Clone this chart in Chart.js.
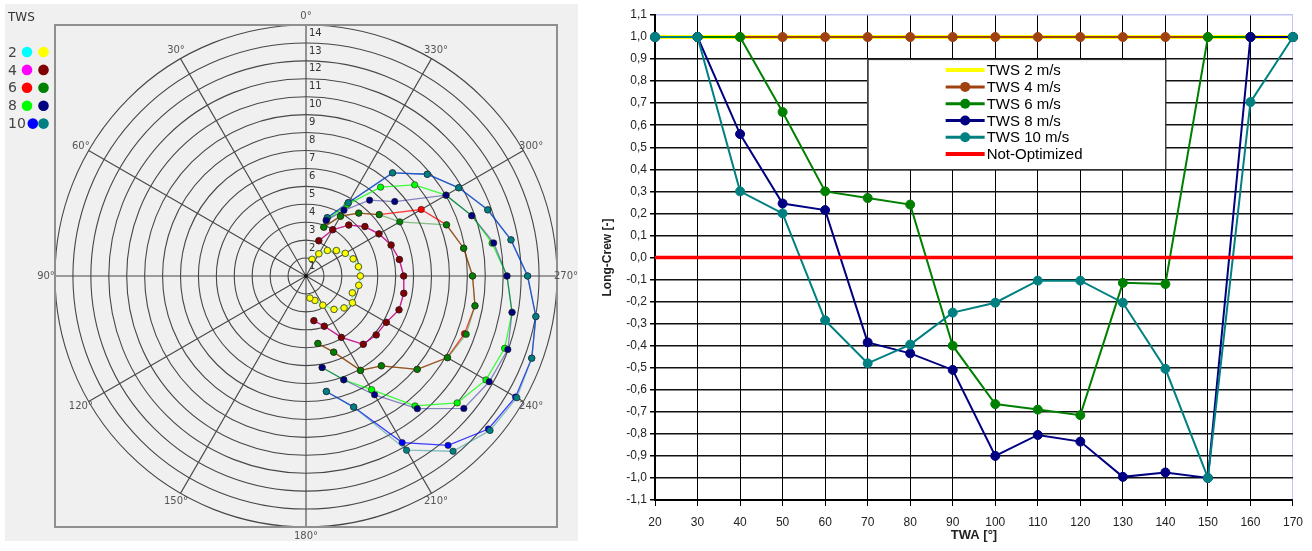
<!DOCTYPE html>
<html>
<head>
<meta charset="utf-8">
<script src="https://cdn.jsdelivr.net/npm/chart.js@4.4.0/dist/chart.umd.min.js"></script>
<style>
  body { margin: 0; width: 1312px; height: 551px; background: #fff; position: relative; overflow: hidden; }
  #polarBox { position: absolute; left: 5px; top: 4px; width: 573px; height: 537px; background: #f0f0f0; }
  #crewBox { position: absolute; left: 590px; top: 0; width: 722px; height: 551px; }
</style>
</head>
<body>
<div id="polarBox"><canvas id="polar"></canvas></div>
<div id="crewBox"><canvas id="crew"></canvas></div>
<script>
// TWA steps used by both charts
var twa = [20, 30, 40, 50, 60, 70, 80, 90, 100, 110, 120, 130, 140, 150, 160, 170];
var twsNames = ['2', '4', '6', '8', '10'];

// polar: boat speed per TWA, left colour column (a) and right colour column (b)
var boat2a  = [0.99, 1.43, 1.86, 2.21, 2.53, 2.80, 2.97, 3.03, 2.99, 2.75, 2.99, 2.77, 2.43, 1.88, 1.45, 1.25];
var boat2b  = [0.99, 1.43, 1.86, 2.21, 2.53, 2.80, 2.97, 3.03, 2.99, 2.75, 2.99, 2.77, 2.43, 1.88, 1.45, 1.25];
var boat4a  = [2.09, 2.98, 3.71, 4.29, 4.70, 5.05, 5.29, 5.45, 5.54, 5.52, 5.17, 5.11, 4.97, 3.95, 2.98, 2.53];
var boat4b  = [2.09, 2.98, 3.71, 4.29, 4.70, 5.05, 5.29, 5.45, 5.54, 5.52, 5.17, 5.11, 4.97, 3.95, 2.98, 2.53];
var boat6a  = [2.90, 3.85, 4.58, 5.33, 7.42, 8.34, 8.93, 9.29, 9.57, 9.41, 9.10, 8.10, 6.54, 6.08, 4.52, 3.82];
var boat6b  = [2.90, 3.85, 4.58, 5.33, 6.04, 8.34, 8.93, 9.29, 9.57, 9.51, 9.12, 8.10, 6.54, 6.08, 4.52, 3.82];
var boat8a  = [3.30, 4.60, 6.47, 7.91, 9.02, 9.84, 10.54, 11.21, 11.67, 11.79, 11.59, 11.01, 9.46, 7.32, 6.16, 5.18];
var boat8b  = [3.30, 4.23, 5.52, 6.46, 9.02, 9.84, 10.63, 11.21, 11.67, 11.98, 11.80, 11.49, 9.66, 7.65, 6.16, 5.18];
var boat10a = [3.46, 4.72, 7.51, 8.83, 9.84, 10.79, 11.61, 12.36, 13.02, 13.40, 13.50, 13.28, 12.33, 10.73, 7.78, 6.54];
var boat10b = [3.46, 4.72, 7.51, 8.83, 9.84, 10.79, 11.61, 12.36, 13.02, 13.40, 13.58, 13.40, 12.76, 11.22, 7.78, 6.54];

var colorsA = ['#00ffff', '#ff00ff', '#ff0000', '#00ff00', '#0000ff'];
var colorsB = ['#ffff00', '#800000', '#008000', '#000080', '#008080'];

// spoke labels, clockwise from the top
var spokeLabels = ['0°', '330°', '300°', '270°', '240°', '210°', '180°', '150°', '120°', '90°', '60°', '30°'];

// right chart: Long-Crew per TWA
var crew2  = [1, 1, 1, 1, 1, 1, 1, 1, 1, 1, 1, 1, 1, 1, 1, 1];
var crew4  = [1, 1, 1, 1, 1, 1, 1, 1, 1, 1, 1, 1, 1, 1, 1, 1];
var crew6  = [1, 1, 1, 0.66, 0.30, 0.27, 0.24, -0.40, -0.665, -0.69, -0.715, -0.115, -0.12, 1, 1, 1];
var crew8  = [1, 1, 0.56, 0.245, 0.215, -0.385, -0.435, -0.51, -0.90, -0.805, -0.835, -0.995, -0.975, -1.0, 1, 1];
var crew10 = [1, 1, 0.30, 0.20, -0.285, -0.48, -0.395, -0.25, -0.205, -0.105, -0.105, -0.205, -0.505, -1.0, 0.705, 1];
var notOptimized = [0, 0, 0, 0, 0, 0, 0, 0, 0, 0, 0, 0, 0, 0, 0, 0];

Chart.defaults.font.family = '"Liberation Sans", Arial, sans-serif';
Chart.defaults.animation = false;

function rgba(hex, a) {
    var n = parseInt(hex.slice(1), 16);
    return 'rgba(' + (n >> 16) + ',' + ((n >> 8) & 255) + ',' + (n & 255) + ',' + a + ')';
}

// radar has 36 slots (every 10°); put each TWA value in its slot
function toSlots(vals) {
    var out = new Array(36).fill(null);
    vals.forEach(function (v, k) { out[twa[k] / 10] = v; });
    return out;
}

var radarLabels = [];
for (var i = 0; i < 36; i++) radarLabels.push(i % 3 === 0 ? spokeLabels[i / 3] : '');

var seriesA = [boat2a, boat4a, boat6a, boat8a, boat10a];
var seriesB = [boat2b, boat4b, boat6b, boat8b, boat10b];

function polarSet(vals, color, lineAlpha) {
    return {
        data: toSlots(vals),
        borderColor: rgba(color, lineAlpha),
        borderWidth: 1.3,
        backgroundColor: 'rgba(0,0,0,0)',
        fill: false,
        pointRadius: 3.2,
        pointBackgroundColor: color,
        pointBorderColor: '#222',
        pointBorderWidth: 0.6
    };
}

var polarSets = [];
seriesB.forEach(function (s, k) { polarSets.push(polarSet(s, colorsB[k], 0.45)); });
seriesA.forEach(function (s, k) { polarSets.push(polarSet(s, colorsA[k], 0.75)); });

var polarExtras = {
    id: 'polarExtras',
    afterDraw: function (chart) {
        var ctx = chart.ctx, s = chart.scales.r, a = chart.chartArea;
        ctx.save();
        // square frame
        ctx.strokeStyle = '#8f8f8f';
        ctx.lineWidth = 2;
        ctx.strokeRect(a.left, a.top, a.right - a.left, a.bottom - a.top);

        // ring numbers
        ctx.fillStyle = '#333';
        ctx.font = '10px "DejaVu Sans"';
        ctx.textAlign = 'left';
        ctx.textBaseline = 'middle';
        s.ticks.forEach(function (t) {
            if (t.value > 0) {
                ctx.fillText(String(t.value), s.xCenter + 3, s.yCenter - s.getDistanceFromCenterForValue(t.value) + 8);
            }
        });

        // spoke labels
        ctx.fillStyle = '#555';
        ctx.textAlign = 'center';
        chart.data.labels.forEach(function (lab, idx) {
            if (!lab) return;
            var p = s.getPointPosition(idx, s.drawingArea + 9);
            ctx.fillText(lab, p.x, p.y);
        });

        // centre dot
        ctx.fillStyle = '#111';
        ctx.beginPath();
        ctx.arc(s.xCenter, s.yCenter, 2, 0, Math.PI * 2);
        ctx.fill();

        // TWS legend
        ctx.fillStyle = '#333';
        ctx.font = '12px "DejaVu Sans"';
        ctx.textAlign = 'left';
        ctx.fillText('TWS', 3, 14);
        ctx.font = '14px "DejaVu Sans"';
        twsNames.forEach(function (name, k) {
            var y = 48 + k * 17.9;
            ctx.fillStyle = '#444';
            ctx.fillText(name, 3, y + 1);
            var x1 = Math.max(22, 3 + ctx.measureText(name).width + 7);
            ctx.fillStyle = colorsA[k];
            ctx.beginPath(); ctx.arc(x1, y, 5.3, 0, Math.PI * 2); ctx.fill();
            ctx.fillStyle = colorsB[k];
            ctx.beginPath(); ctx.arc(38.5, y, 5.3, 0, Math.PI * 2); ctx.fill();
        });
        ctx.restore();
    }
};

new Chart(document.getElementById('polar'), {
    type: 'radar',
    data: { labels: radarLabels, datasets: polarSets },
    options: {
        responsive: true,
        maintainAspectRatio: false,
        events: [],
        layout: { padding: { left: 50, right: 21, top: 21, bottom: 14 } },
        plugins: { legend: { display: false }, tooltip: { enabled: false } },
        scales: {
            r: {
                min: 0,
                max: 14,
                startAngle: 0,
                ticks: { display: false, stepSize: 1 },
                grid: { circular: true, color: '#474747', lineWidth: 1.1 },
                angleLines: {
                    color: function (c) { return c.index % 3 === 0 ? '#474747' : 'rgba(0,0,0,0)'; },
                    lineWidth: 1.1
                },
                pointLabels: { display: false }
            }
        }
    },
    plugins: [polarExtras]
});

// right chart
function fmt(v) {
    if (Math.abs(v) < 1e-9) return '0,0';
    return v.toFixed(1).replace('.', ',');
}

var crewLegend = {
    id: 'crewLegend',
    afterDraw: function (chart) {
        var ctx = chart.ctx, x = chart.scales.x, y = chart.scales.y;
        var left = x.getPixelForValue(5), right = x.getPixelForValue(12);
        var top = y.getPixelForValue(0.9), bottom = y.getPixelForValue(0.4);
        ctx.save();
        ctx.fillStyle = '#fff';
        ctx.fillRect(left, top, right - left, bottom - top);
        ctx.strokeStyle = '#222';
        ctx.lineWidth = 1;
        ctx.strokeRect(left + 0.5, top + 0.5, right - left, bottom - top);
        ctx.font = '15px "Liberation Sans"';
        ctx.textBaseline = 'middle';
        ctx.textAlign = 'left';
        chart.data.datasets.forEach(function (ds, k) {
            var yy = top + 11 + k * 16.8;
            var x0 = left + 78, x1 = left + 117;
            ctx.strokeStyle = ds.borderColor;
            ctx.lineWidth = ds.pointRadius ? 3 : 4;
            ctx.beginPath(); ctx.moveTo(x0, yy); ctx.lineTo(x1, yy); ctx.stroke();
            if (ds.pointRadius) {
                ctx.fillStyle = ds.borderColor;
                ctx.beginPath(); ctx.arc((x0 + x1) / 2, yy, 5, 0, Math.PI * 2); ctx.fill();
            }
            ctx.fillStyle = '#000';
            ctx.fillText(ds.label, x1 + 2, yy + 1);
        });
        ctx.restore();
    }
};

function crewSet(label, vals, color, width, radius, order) {
    return {
        label: label,
        data: vals,
        borderColor: color,
        backgroundColor: color,
        borderWidth: width,
        pointRadius: radius,
        pointBackgroundColor: color,
        pointBorderColor: color,
        pointBorderWidth: 1,
        tension: 0,
        order: order
    };
}

new Chart(document.getElementById('crew'), {
    type: 'line',
    data: {
        labels: twa.map(String),
        datasets: [
            crewSet('TWS 2 m/s', crew2, '#ffff00', 4, 0, 5),
            crewSet('TWS 4 m/s', crew4, '#a0420f', 2, 4.5, 4),
            crewSet('TWS 6 m/s', crew6, '#008000', 2, 4.5, 3),
            crewSet('TWS 8 m/s', crew8, '#000080', 2, 4.5, 2),
            crewSet('TWS 10 m/s', crew10, '#008080', 2, 4.5, 1),
            crewSet('Not-Optimized', notOptimized, '#ff0000', 3.5, 0, 0)
        ]
    },
    options: {
        responsive: true,
        maintainAspectRatio: false,
        events: [],
        layout: { padding: { left: 0, right: 15, top: 15, bottom: 0 } },
        plugins: { legend: { display: false }, tooltip: { enabled: false } },
        scales: {
            x: {
                grid: {
                    color: function (c) { return c.index === twa.length - 1 ? '#c4c4f4' : '#000'; },
                    lineWidth: 1,
                    tickLength: 6,
                    tickColor: '#000'
                },
                border: { color: '#000', width: 2 },
                ticks: { color: '#222', font: { size: 12 }, padding: 9, maxRotation: 0, autoSkip: false },
                title: { display: true, text: 'TWA [°]', color: '#222', font: { size: 13, weight: 'bold' }, padding: { top: 0, bottom: 8 } },
                afterFit: function (s) { s.height = 51; }
            },
            y: {
                min: -1.1,
                max: 1.1,
                grid: {
                    color: function (c) { return c.tick && Math.abs(c.tick.value - 1.1) < 1e-6 ? '#c4c4f4' : '#111'; },
                    lineWidth: 1.5,
                    tickLength: 5,
                    tickColor: '#000'
                },
                border: { color: '#000', width: 2 },
                ticks: { stepSize: 0.1, maxTicksLimit: 30, autoSkip: false, color: '#222', font: { size: 12 }, padding: 3, callback: fmt },
                title: { display: true, text: 'Long-Crew [-]', color: '#222', font: { size: 12, weight: 'bold' }, padding: { top: 10, bottom: 0 } },
                afterFit: function (s) { s.width = 65; }
            }
        }
    },
    plugins: [crewLegend]
});
</script>
</body>
</html>
